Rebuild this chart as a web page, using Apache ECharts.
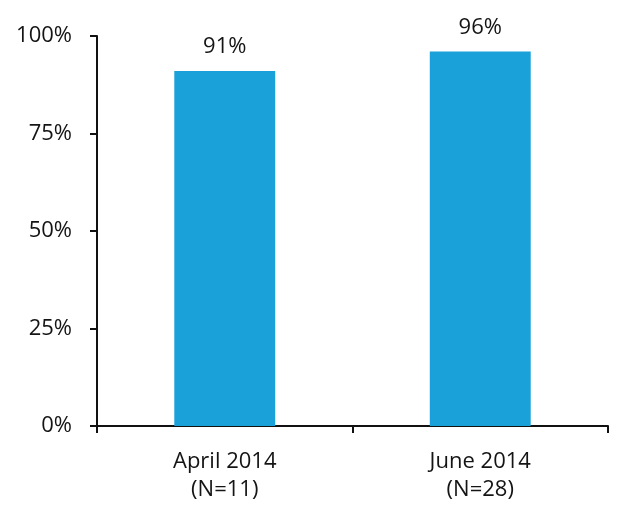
<!DOCTYPE html>
<html>
<head>
<meta charset="utf-8">
<script src="https://cdn.jsdelivr.net/npm/echarts@6/dist/echarts.min.js"></script>
<style>
  html, body { margin: 0; padding: 0; background: #fff; }
  #chart { width: 624px; height: 506px; }
</style>
</head>
<body>
<div id="chart"></div>
<script>
// Survey periods and share of positive responses (%)
const categories = ['April 2014\n(N=11)', 'June 2014\n(N=28)'];
const values = [91, 96];
const yTicks = { min: 0, max: 100, interval: 25 };

const font = '"Open Sans", Lato, sans-serif';
const textColor = '#141414';
const chart = echarts.init(document.getElementById('chart'));

chart.setOption({
  animation: false,
  grid: { left: 97, right: 16, top: 36, bottom: 80 },
  xAxis: {
    type: 'category',
    data: categories,
    boundaryGap: true,
    axisLine: { lineStyle: { color: '#111', width: 2 } },
    axisTick: { show: true, length: 7, lineStyle: { color: '#111', width: 2 } },
    axisLabel: {
      color: textColor, fontFamily: font, fontSize: 22,
      lineHeight: 28, margin: 22
    }
  },
  yAxis: {
    type: 'value',
    min: yTicks.min, max: yTicks.max, interval: yTicks.interval,
    splitLine: { show: false },
    axisLine: { show: true, lineStyle: { color: '#111', width: 2 } },
    axisTick: { show: true, length: 7, lineStyle: { color: '#111', width: 2 } },
    axisLabel: {
      color: textColor, fontFamily: font, fontSize: 22, margin: 25,
      formatter: v => v + '%'
    }
  },
  series: [{
    type: 'bar',
    data: values,
    barWidth: '39.5%',
    itemStyle: { color: '#1ba1d9' },
    label: {
      show: true, position: 'top', distance: 13,
      color: textColor, fontFamily: font, fontSize: 22,
      formatter: p => p.value + '%'
    }
  }]
});
</script>
</body>
</html>
